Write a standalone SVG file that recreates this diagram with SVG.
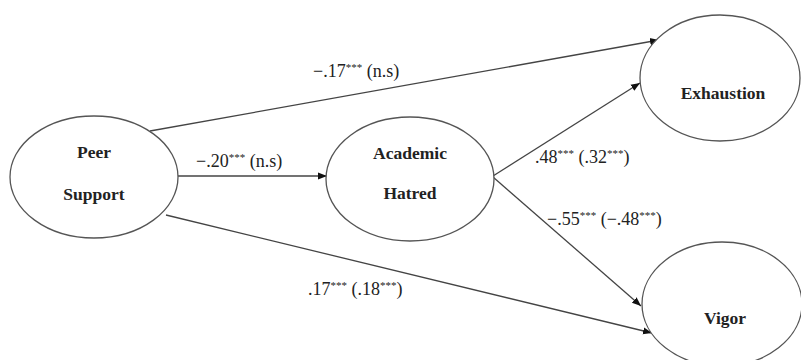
<svg xmlns="http://www.w3.org/2000/svg" width="801" height="360" viewBox="0 0 801 360">
<style>
.node{fill:#fff;stroke:#555;stroke-width:1.3}
.nt{font-family:"Liberation Serif","Times New Roman","DejaVu Serif",serif;font-weight:bold;font-size:17.5px;fill:#222;text-anchor:middle}
.edge{stroke:#444;stroke-width:1.3;fill:none;marker-end:url(#ah)}
.lab{font-family:"Liberation Serif","Times New Roman","DejaVu Serif",serif;font-size:18px;fill:#222}
.sup{font-size:11px}
</style>
<defs>
<marker id="ah" viewBox="0 0 10 10" refX="10" refY="5" markerWidth="9" markerHeight="9" markerUnits="userSpaceOnUse" orient="auto">
<path d="M0,1 L10,5 L0,9 z" fill="#111"/>
</marker>
</defs>
<rect width="801" height="360" fill="#fff"/>
<g id="connectors">
<line class="edge" x1="150" y1="131" x2="659" y2="40"/>
<line class="edge" x1="178" y1="176" x2="327" y2="176"/>
<line class="edge" x1="166" y1="215" x2="652" y2="333"/>
<line class="edge" x1="493" y1="176" x2="640" y2="83"/>
<line class="edge" x1="493" y1="177" x2="641" y2="306"/>
</g>
<g id="labels">
<text class="lab" x="313" y="77">−.17<tspan class="sup" dy="-6">***</tspan><tspan dy="6"> (n.s)</tspan></text>
<text class="lab" x="196" y="167">−.20<tspan class="sup" dy="-6">***</tspan><tspan dy="6"> (n.s)</tspan></text>
<text class="lab" x="535" y="163">.48<tspan class="sup" dy="-6">***</tspan><tspan dy="6"> (.32</tspan><tspan class="sup" dy="-6">***</tspan><tspan dy="6">)</tspan></text>
<text class="lab" x="547" y="225">−.55<tspan class="sup" dy="-6">***</tspan><tspan dy="6"> (−.48</tspan><tspan class="sup" dy="-6">***</tspan><tspan dy="6">)</tspan></text>
<text class="lab" x="308" y="295">.17<tspan class="sup" dy="-6">***</tspan><tspan dy="6"> (.18</tspan><tspan class="sup" dy="-6">***</tspan><tspan dy="6">)</tspan></text>
</g>
<g id="peer-support">
<ellipse class="node" cx="94" cy="177" rx="84" ry="61"/>
<text class="nt" x="94" y="158">Peer</text>
<text class="nt" x="94" y="200">Support</text>
</g>
<g id="academic-hatred">
<ellipse class="node" cx="410" cy="179" rx="84" ry="62"/>
<text class="nt" x="410" y="159">Academic</text>
<text class="nt" x="410" y="199">Hatred</text>
</g>
<g id="exhaustion">
<ellipse class="node" cx="720" cy="78" rx="80" ry="63"/>
<text class="nt" x="723" y="99">Exhaustion</text>
</g>
<g id="vigor">
<ellipse class="node" cx="722" cy="304" rx="80" ry="62"/>
<text class="nt" x="725" y="324">Vigor</text>
</g>
</svg>
